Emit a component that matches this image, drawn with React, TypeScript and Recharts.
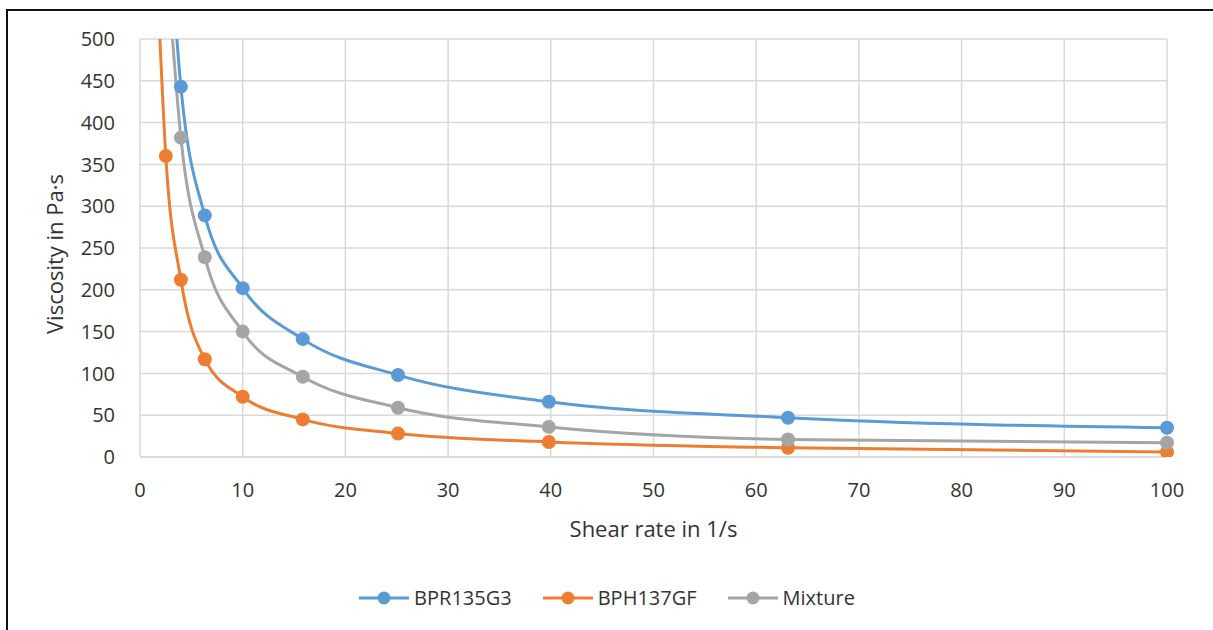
import { LineChart, Line, XAxis, YAxis, CartesianGrid, Legend } from 'recharts';

// shear rate (1/s), log spaced
const shearRate = [1.585, 2.512, 3.981, 6.31, 10, 15.85, 25.12, 39.81, 63.1, 100];
// viscosity (Pa·s); first values lie above the 500 limit and are clipped
const bpr135g3 = [null, 690, 443, 289, 202, 141, 98, 66, 47, 35];
const bph137gf = [600, 360, 212, 117, 72, 45, 28, 18, 11, 6];
const mixture = [null, 610, 382, 239, 150, 96, 59, 36, 21, 17];

const xTicks = [0, 10, 20, 30, 40, 50, 60, 70, 80, 90, 100];
const yTicks = [0, 50, 100, 150, 200, 250, 300, 350, 400, 450, 500];

const series = [
  { key: 'BPR135G3', values: bpr135g3, color: '#5B9BD5' },
  { key: 'BPH137GF', values: bph137gf, color: '#ED7D31' },
  { key: 'Mixture', values: mixture, color: '#A5A5A5' },
];

const data = shearRate.map((x, i) => {
  const row: Record<string, number | null> = { x };
  series.forEach((s) => {
    row[s.key] = s.values[i];
  });
  return row;
});

const font = '"Open Sans", sans-serif';
const textColor = '#333';
const gridColor = '#d9d9d9';

function LegendItems() {
  return (
    <div style={{ display: 'flex', justifyContent: 'center', gap: 30, fontFamily: font, fontSize: 20, color: textColor }}>
      {series.map((s) => (
        <div key={s.key} style={{ display: 'flex', alignItems: 'center' }}>
          <svg width={52} height={14} style={{ marginRight: 4 }}>
            <line x1={1} y1={7} x2={51} y2={7} stroke={s.color} strokeWidth={3} />
            <circle cx={26} cy={7} r={6.5} fill={s.color} />
          </svg>
          <span>{s.key}</span>
        </div>
      ))}
    </div>
  );
}

function YTitle(props: any) {
  const { viewBox } = props;
  const cx = viewBox.x + 63;
  const cy = viewBox.y + viewBox.height / 2 + 6;
  return (
    <text
      x={cx}
      y={cy}
      transform={`rotate(-90, ${cx}, ${cy})`}
      textAnchor="middle"
      fontFamily={font}
      fontSize={22}
      fill={textColor}
    >
      Viscosity in Pa·s
    </text>
  );
}

export default function App() {
  return (
    <div style={{ position: 'absolute', left: 0, top: 0, width: 1213, height: 630, background: '#fff' }}>
      <div
        style={{
          position: 'absolute',
          left: 6,
          top: 9,
          right: 0,
          bottom: 0,
          borderTop: '2px solid #111',
          borderLeft: '2px solid #111',
        }}
      />
      <div style={{ position: 'absolute', left: 0, top: 0 }}>
        <LineChart width={1213} height={630} data={data} margin={{ top: 39, right: 46, bottom: 0, left: 0 }}>
          <CartesianGrid stroke={gridColor} strokeWidth={1.5} />
          <XAxis
            dataKey="x"
            type="number"
            domain={[0, 100]}
            ticks={xTicks}
            height={85}
            axisLine={{ stroke: gridColor, strokeWidth: 1.5 }}
            tickLine={false}
            tickSize={0}
            tickMargin={26}
            tick={{ fontFamily: font, fontSize: 20, fill: textColor }}
            label={{
              value: 'Shear rate in 1/s',
              position: 'insideBottom',
              offset: 5,
              style: { fontFamily: font, fontSize: 22, fill: textColor },
            }}
          />
          <YAxis
            type="number"
            domain={[0, 500]}
            ticks={yTicks}
            allowDataOverflow
            width={140}
            axisLine={false}
            tickLine={false}
            tickSize={0}
            tickMargin={25}
            tick={{ fontFamily: font, fontSize: 20, fill: textColor }}
            label={<YTitle />}
          />
          <Legend
            verticalAlign="bottom"
            content={<LegendItems />}
            wrapperStyle={{ bottom: 0, left: 0, width: 1213, height: 88, boxSizing: 'border-box', paddingTop: 42 }}
          />
          {series.map((s) => (
            <Line
              key={s.key}
              dataKey={s.key}
              type="monotone"
              stroke={s.color}
              strokeWidth={3}
              dot={{ r: 7, fill: s.color, stroke: s.color, strokeWidth: 0 }}
              activeDot={false}
              isAnimationActive={false}
            />
          ))}
        </LineChart>
      </div>
    </div>
  );
}
